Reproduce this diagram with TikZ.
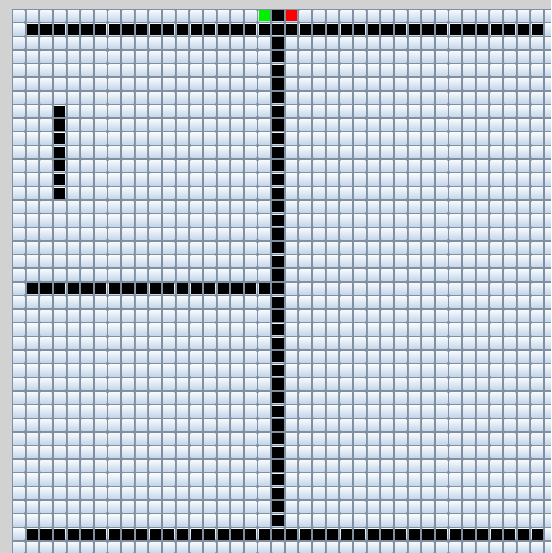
\documentclass[tikz,border=0pt]{standalone}
\usepackage{tikz}

\definecolor{frame}{RGB}{210,210,210}
\definecolor{gridline}{RGB}{128,144,160}
\definecolor{celltop}{RGB}{246,249,252}
\definecolor{cellbottom}{RGB}{196,214,234}

\begin{document}
\begin{tikzpicture}[
		x=1pt, y=-1pt,
		% --- ESTILOS DE CELDA ---
		cell/.style={
			top color=celltop,
			bottom color=cellbottom
		},
		wall/.style={fill=black},
		startcell/.style={fill=green!90!black!60!green},
		goalcell/.style={fill=red}
		]
		
		% --- MARCO ---
		\useasboundingbox (0,0) rectangle (551,553);
		\clip (0,0) rectangle (551,553);
		\fill[frame] (0,0) rectangle (551,553);
		\fill[gridline] (12,9) rectangle (551,553);
		
		% --- CUADRICULA 40 x 40 ---
		\foreach \c in {0,...,39}
		\foreach \r in {0,...,39}
		\shade[cell] (12+\c*13.64+1.2, 9+\r*13.64+1.2) rectangle ++(11.24,11.24);
		
		% --- PAREDES ---
		% fila superior e inferior
		\foreach \c in {1,...,38} {
			\fill[wall] (12+\c*13.64+1.2, 9+1*13.64+1.2) rectangle ++(11.24,11.24);
			\fill[wall] (12+\c*13.64+1.2, 9+38*13.64+1.2) rectangle ++(11.24,11.24);
		}
		% columna central
		\foreach \r in {0,...,38}
		\fill[wall] (12+19*13.64+1.2, 9+\r*13.64+1.2) rectangle ++(11.24,11.24);
		% pared horizontal media
		\foreach \c in {1,...,18}
		\fill[wall] (12+\c*13.64+1.2, 9+20*13.64+1.2) rectangle ++(11.24,11.24);
		% pared vertical corta
		\foreach \r in {7,...,13}
		\fill[wall] (12+3*13.64+1.2, 9+\r*13.64+1.2) rectangle ++(11.24,11.24);
		
		% --- INICIO Y META ---
		\fill[startcell] (12+18*13.64+1.2, 9+1.2) rectangle ++(11.24,11.24);
		\fill[goalcell] (12+20*13.64+1.2, 9+1.2) rectangle ++(11.24,11.24);
		
	\end{tikzpicture}
\end{document}
